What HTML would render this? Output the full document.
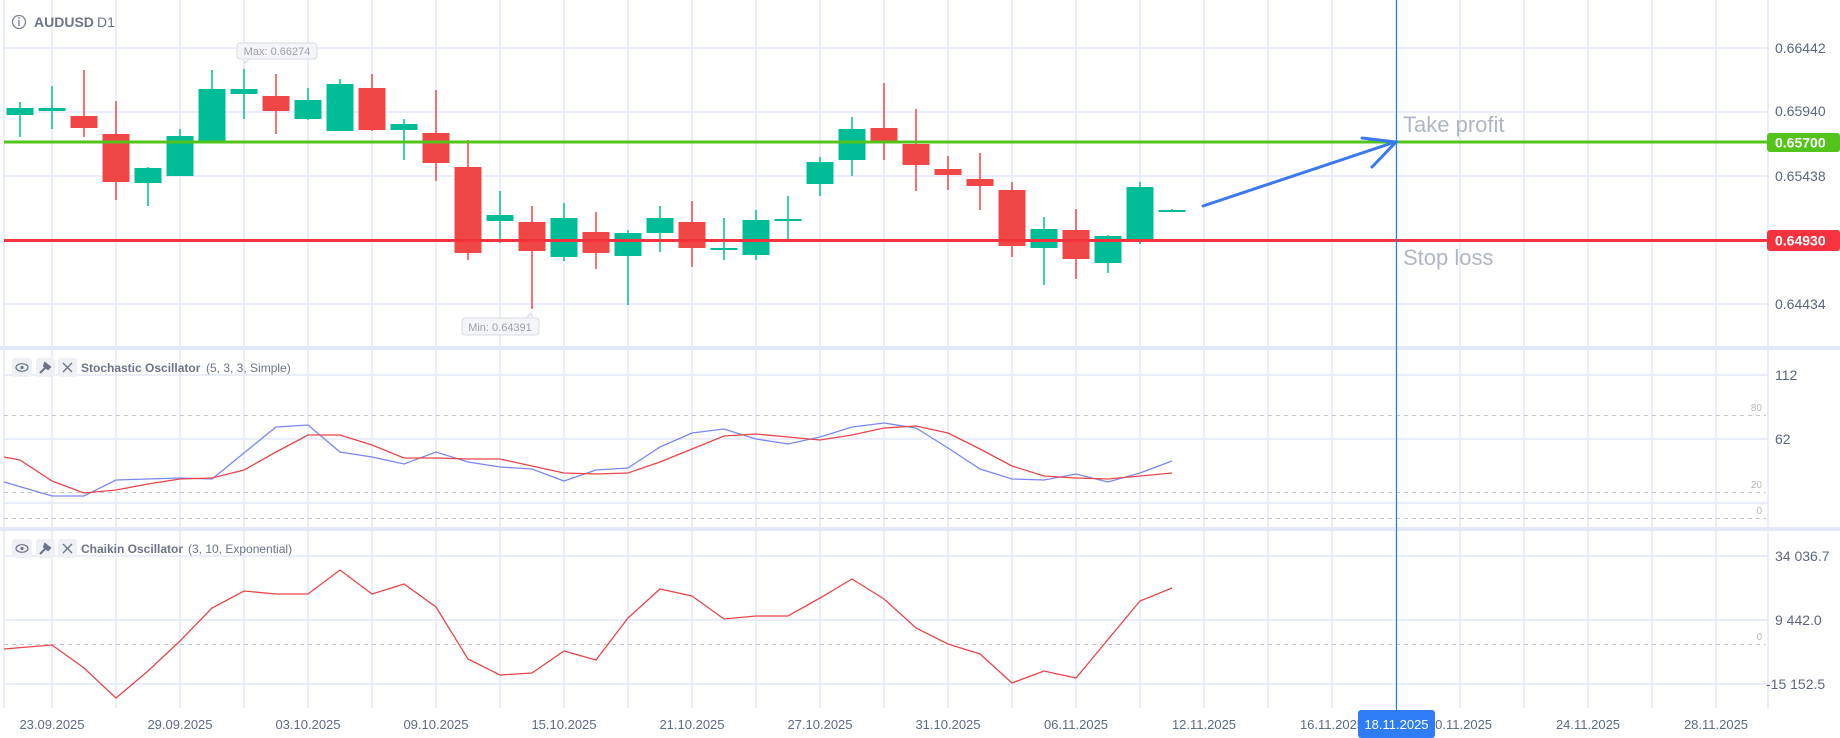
<!DOCTYPE html>
<html><head><meta charset="utf-8"><style>
html,body{margin:0;padding:0;background:#fff;}
svg{display:block;font-family:"Liberation Sans",sans-serif;}
</style></head><body>
<svg id="s" width="1840" height="738" viewBox="0 0 1840 738" xmlns="http://www.w3.org/2000/svg">
<rect width="1840" height="738" fill="#fff"/>
<g id="grid" stroke="#e3e9f8" stroke-width="1.5"></g>
<rect x="0" y="346" width="1840" height="4" fill="#e3e9f8"/>
<rect x="0" y="527" width="1840" height="4" fill="#e3e9f8"/>
<g stroke="#c4c4c4" stroke-dasharray="4,4" stroke-width="1">
<line x1="4" y1="415.5" x2="1766" y2="415.5"/>
<line x1="4" y1="492.5" x2="1766" y2="492.5"/>
<line x1="4" y1="518.5" x2="1766" y2="518.5"/>
<line x1="4" y1="644.5" x2="1766" y2="644.5"/>
</g>
<g font-size="10" fill="#b8b8b8" text-anchor="end">
<text x="1762" y="411">80</text><text x="1762" y="488">20</text><text x="1762" y="514">0</text><text x="1762" y="640">0</text>
</g>
<g id="candles"></g>
<line x1="4" y1="142" x2="1768" y2="142" stroke="#52c41a" stroke-width="3"/>
<line x1="4" y1="240.5" x2="1768" y2="240.5" stroke="#f5333f" stroke-width="3"/>
<polyline fill="none" stroke="#7c87f2" stroke-width="1.3" points="4,482 52,496 84,496 116,480 180,478 212,479 244,453 276,427 308,425 340,452 372,457 404,464 436,452 468,462 500,467 532,469 564,481 596,470 628,468 660,447 692,433 724,429 756,439 788,444 820,437 852,427 884,423 916,428 948,448 980,469 1012,479 1044,480 1076,474 1108,482 1140,473 1172,461"/>
<polyline fill="none" stroke="#e8464b" stroke-width="1.3" points="4,457 20,460 52,481 84,493 116,490 148,484 180,479 212,478 244,470 276,452 308,435 340,435 372,445 404,458 436,458 468,459 500,459 532,466 564,473 596,474 628,473 660,462 692,449 724,436 756,434 788,437 820,440 852,435 884,428 916,426 948,433 980,449 1012,466 1044,476 1076,478 1108,479 1140,476 1172,473"/>
<polyline fill="none" stroke="#e8464b" stroke-width="1.3" points="4,649 52,645 84,668 116,698 148,671 180,641 212,608 244,591 276,594 308,594 340,570 372,594 404,584 436,607 468,659 500,675 532,673 564,651 596,660 628,618 660,589 692,596 724,619 756,616 788,616 820,598 852,579 884,599 916,628 948,644 980,654 1012,683 1044,671 1076,678 1140,601 1172,588"/>
<g stroke="#3a78ee" stroke-width="3" stroke-linecap="round" fill="none">
<line x1="1203" y1="206" x2="1395" y2="142"/>
<polyline points="1362,138 1396,142 1372,167"/>
</g>
<line x1="1396.5" y1="0" x2="1396.5" y2="710" stroke="#2f7df6" stroke-width="1.2"/>
<text x="1403" y="132" font-size="22" fill="#b0b6c3">Take profit</text>
<text x="1403" y="265" font-size="22" fill="#b0b6c3">Stop loss</text>
<line x1="1768" y1="0" x2="1768" y2="708" stroke="#e3e9f8" stroke-width="1.5"/>
<g font-size="14" fill="#5b6680">
<text x="1775" y="53">0.66442</text>
<text x="1775" y="116">0.65940</text>
<text x="1775" y="181">0.65438</text>
<text x="1775" y="309">0.64434</text>
<text x="1775" y="380">112</text>
<text x="1775" y="444">62</text>
<text x="1775" y="561">34 036.7</text>
<text x="1775" y="625">9 442.0</text>
<text x="1766" y="689">-15 152.5</text>
</g>
<rect x="1767" y="133" width="73" height="19" rx="3" fill="#52c41a"/>
<text x="1775" y="147.5" font-size="14" font-weight="bold" fill="#fff">0.65700</text>
<rect x="1767" y="230" width="73" height="21" rx="3" fill="#f5333f"/>
<text x="1775" y="245.5" font-size="14" font-weight="bold" fill="#fff">0.64930</text>
<circle cx="19" cy="22" r="6.5" fill="none" stroke="#7a8296" stroke-width="1.3"/>
<line x1="19" y1="20" x2="19" y2="26" stroke="#7a8296" stroke-width="1.4"/>
<circle cx="19" cy="18" r="0.9" fill="#7a8296"/>
<text x="34" y="27" font-size="14" font-weight="bold" fill="#6b7489">AUDUSD</text>
<text x="97" y="27" font-size="14" fill="#6b7489">D1</text>
<rect x="237" y="43" width="80" height="16" rx="3" fill="#f4f5f8" stroke="#d8dbe2"/>
<path d="M243,59 L245,63 L249,59" fill="#f4f5f8" stroke="#d8dbe2"/>
<text x="277" y="55" font-size="11" fill="#9aa0ad" text-anchor="middle">Max: 0.66274</text>
<rect x="462" y="318" width="77" height="17" rx="3" fill="#f4f5f8" stroke="#d8dbe2"/>
<path d="M526,318 L531,313 L533,318" fill="#f4f5f8" stroke="#d8dbe2"/>
<text x="500" y="331" font-size="11" fill="#9aa0ad" text-anchor="middle">Min: 0.64391</text>
<g transform="translate(0,358)">
<rect x="12" y="0" width="20" height="19" rx="3" fill="#eef0f5"/><rect x="36" y="0" width="19" height="19" rx="3" fill="#eef0f5"/><rect x="58" y="0" width="19" height="19" rx="3" fill="#eef0f5"/>
<ellipse cx="22" cy="9.5" rx="6" ry="3.8" fill="none" stroke="#6b7489" stroke-width="1.2"/><circle cx="22" cy="9.5" r="1.6" fill="#6b7489"/>
<path d="M40,15 L47,8 M45,5 L50,9 L48,11 L44,8 Z" stroke="#6b7489" stroke-width="2" fill="#6b7489"/>
<path d="M63,5 L72,14 M72,5 L63,14" stroke="#6b7489" stroke-width="1.3"/>
<text x="81" y="14" font-size="12" font-weight="bold" fill="#6b7489">Stochastic Oscillator</text>
<text x="206" y="14" font-size="12" fill="#6b7489">(5, 3, 3, Simple)</text>
</g>
<g transform="translate(0,539)">
<rect x="12" y="0" width="20" height="19" rx="3" fill="#eef0f5"/><rect x="36" y="0" width="19" height="19" rx="3" fill="#eef0f5"/><rect x="58" y="0" width="19" height="19" rx="3" fill="#eef0f5"/>
<ellipse cx="22" cy="9.5" rx="6" ry="3.8" fill="none" stroke="#6b7489" stroke-width="1.2"/><circle cx="22" cy="9.5" r="1.6" fill="#6b7489"/>
<path d="M40,15 L47,8 M45,5 L50,9 L48,11 L44,8 Z" stroke="#6b7489" stroke-width="2" fill="#6b7489"/>
<path d="M63,5 L72,14 M72,5 L63,14" stroke="#6b7489" stroke-width="1.3"/>
<text x="81" y="14" font-size="12" font-weight="bold" fill="#6b7489">Chaikin Oscillator</text>
<text x="188" y="14" font-size="12" fill="#6b7489">(3, 10, Exponential)</text>
</g>
<g font-size="13" fill="#5d6a85" text-anchor="middle">
<text x="52" y="729">23.09.2025</text>
<text x="180" y="729">29.09.2025</text>
<text x="308" y="729">03.10.2025</text>
<text x="436" y="729">09.10.2025</text>
<text x="564" y="729">15.10.2025</text>
<text x="692" y="729">21.10.2025</text>
<text x="820" y="729">27.10.2025</text>
<text x="948" y="729">31.10.2025</text>
<text x="1076" y="729">06.11.2025</text>
<text x="1204" y="729">12.11.2025</text>
<text x="1332" y="729">16.11.2025</text>
<text x="1460" y="729">20.11.2025</text>
<text x="1588" y="729">24.11.2025</text>
<text x="1716" y="729">28.11.2025</text>
</g>
<rect x="1358" y="710" width="77" height="28" rx="3" fill="#2f7df6"/>
<text x="1396.5" y="729" font-size="13" fill="#fff" text-anchor="middle">18.11.2025</text>
</svg>
<script>
var NS="http://www.w3.org/2000/svg";
function el(p,t,a){var e=document.createElementNS(NS,t);for(var k in a)e.setAttribute(k,a[k]);p.appendChild(e);return e;}
var g=document.getElementById('grid');
el(g,'line',{x1:4,y1:0,x2:4,y2:708});
for(var x=52;x<1768;x+=64)el(g,'line',{x1:x,y1:0,x2:x,y2:708});
[48,112,176,240,304,375,439,503,556,620,684].forEach(function(y){el(g,'line',{x1:4,y1:y,x2:1768,y2:y});});
var c=[[102,137,108,115,1],[86,129,108,111,1],[70,137,116,128,0],[101,200,134,182,0],[167,206,168,183,1],[129,176,136,176,1],[70,141,89,141,1],[69,119,89,94,1],[74,134,96,111,0],[88,120,100,119,1],[79,131,84,131,1],[74,131,88,130,0],[119,160,124,130,1],
[90,181,133,163,0],[140,260,167,253,0],[191,243,215,221,1],[206,309,222,251,0],[203,261,218,257,1],[212,269,232,253,0],[230,305,233,256,1],[206,252,218,233,1],[201,267,222,248,0],[218,260,248,249,1],[210,260,220,255,1],[196,239,219,220,1],[157,196,162,184,1],
[117,176,129,160,1],[83,160,128,141,0],[109,191,144,165,0],[156,190,169,175,0],[153,210,179,186,0],[182,257,190,246,0],[217,285,229,248,1],[209,279,230,259,0],[235,273,236,263,1],[182,244,187,239,1],[209,212,210,212,1]];
var cg=document.getElementById('candles');
c.forEach(function(d,i){var x=20+32*i,col=d[4]?'#00bd97':'#f04646';
el(cg,'line',{x1:x,y1:d[0],x2:x,y2:d[1],stroke:col,'stroke-width':1.5});
el(cg,'rect',{x:x-13.5,y:d[2],width:27,height:Math.max(2,d[3]-d[2]),fill:col});});
</script>
</body></html>
